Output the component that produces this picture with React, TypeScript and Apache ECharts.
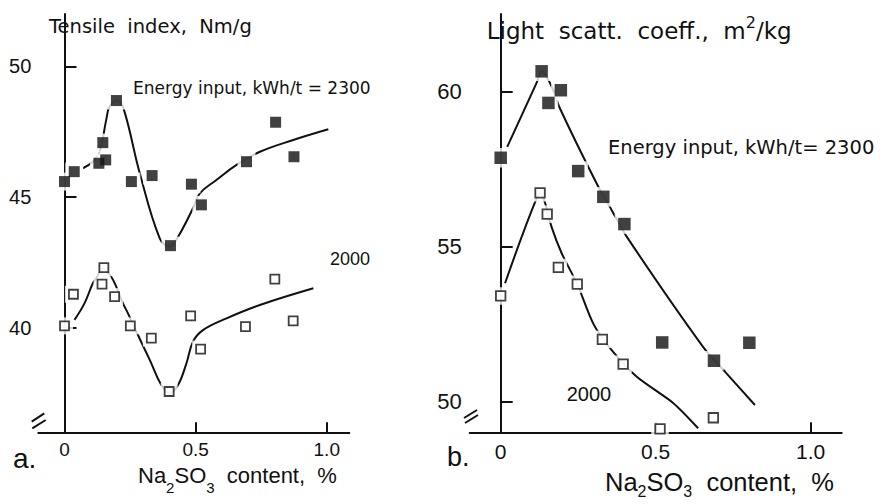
import React, { useEffect, useRef } from "react";
import * as echarts from "echarts";

const FONT = "'Liberation Sans', Arial, sans-serif";
const TFONT = "'DejaVu Sans', 'Liberation Sans', sans-serif";
const INK = "#111";

// ---- Panel a: tensile index ----
const tensile2300Points: [number, number][] = [
  [0.0, 45.59], [0.037, 45.97], [0.131, 46.29], [0.146, 47.08], [0.157, 46.42],
  [0.198, 48.69], [0.255, 45.59], [0.334, 45.82], [0.404, 43.14], [0.484, 45.49],
  [0.522, 44.7], [0.694, 46.35], [0.805, 47.86], [0.875, 46.54],
];
const tensile2300Curve: [number, number][] = [
  [0.07, 46.1], [0.108, 46.35], [0.134, 46.73], [0.159, 47.95], [0.172, 48.46],
  [0.2, 48.69], [0.225, 48.39], [0.287, 45.91], [0.363, 43.42], [0.401, 43.1],
  [0.433, 43.48], [0.49, 44.57], [0.516, 45.14], [0.579, 45.65], [0.656, 46.23],
  [0.745, 46.73], [0.872, 47.18], [1.006, 47.59],
];
const tensile2000Points: [number, number][] = [
  [0.0, 40.07], [0.034, 41.28], [0.15, 42.3], [0.143, 41.67], [0.191, 41.19],
  [0.251, 40.07], [0.331, 39.6], [0.399, 37.56], [0.481, 40.45], [0.519, 39.18],
  [0.69, 40.04], [0.802, 41.86], [0.872, 40.26],
];
const tensile2000Curve: [number, number][] = [
  [0.038, 40.3], [0.076, 40.93], [0.108, 41.7], [0.121, 41.89], [0.146, 42.27],
  [0.178, 41.95], [0.197, 41.57], [0.223, 40.93], [0.242, 40.55], [0.28, 39.72],
  [0.325, 38.77], [0.369, 37.81], [0.401, 37.49], [0.433, 37.81], [0.465, 38.64],
  [0.49, 39.47], [0.528, 39.91], [0.618, 40.36], [0.745, 40.87], [0.949, 41.51],
];
const leftYTicks = [40, 45, 50];
const leftXTicks = [0, 0.5, 1.0];

// ---- Panel b: light scattering coefficient ----
const scatt2300Points: [number, number][] = [
  [0.0, 57.86], [0.132, 60.65], [0.154, 59.63], [0.194, 60.04], [0.25, 57.43],
  [0.331, 56.6], [0.399, 55.72], [0.521, 51.9], [0.688, 51.31], [0.802, 51.89],
];
const scatt2300Curve: [number, number][] = [
  [0.021, 58.21], [0.115, 60.26], [0.132, 60.65], [0.165, 60.15], [0.189, 59.5],
  [0.312, 56.98], [0.358, 56.17], [0.408, 55.29], [0.654, 51.74], [0.724, 50.95],
  [0.82, 49.88],
];
const scatt2000Points: [number, number][] = [
  [0.0, 53.4], [0.127, 56.73], [0.15, 56.04], [0.186, 54.32], [0.247, 53.78],
  [0.328, 52.0], [0.395, 51.2], [0.514, 49.11], [0.686, 49.47],
];
const scatt2000Curve: [number, number][] = [
  [0.014, 53.81], [0.052, 54.88], [0.105, 56.28], [0.127, 56.73], [0.143, 56.41],
  [0.164, 55.63], [0.197, 54.77], [0.247, 53.78], [0.299, 52.5], [0.358, 51.65],
  [0.439, 50.79], [0.557, 49.94], [0.637, 49.13],
];
const rightYTicks = [50, 55, 60];
const rightXTicks = [0, 0.5, 1.0];

const xFmt = (v: number) => (v === 0 ? "0" : v.toFixed(1));

function makeAxes(
  gridIndex: number,
  xr: [number, number],
  yr: [number, number],
  xTicks: number[],
  yTicks: number[],
  xFont: number,
  yFont: number,
  xMargin: number,
  yMargin: number
) {
  const axisLine = { show: true, lineStyle: { color: INK, width: 2 } };
  const xAxis = {
    type: "value",
    gridIndex,
    min: xr[0],
    max: xr[1],
    axisLine,
    splitLine: { show: false },
    axisTick: { show: true, inside: true, length: 10, customValues: xTicks, lineStyle: { color: INK, width: 2 } },
    axisLabel: {
      show: true,
      customValues: xTicks,
      formatter: xFmt,
      color: INK,
      fontSize: xFont,
      fontFamily: FONT,
      margin: xMargin,
    },
  };
  const yAxis = {
    type: "value",
    gridIndex,
    min: yr[0],
    max: yr[1],
    axisLine,
    splitLine: { show: false },
    axisTick: { show: true, inside: true, length: 12, customValues: yTicks, lineStyle: { color: INK, width: 2 } },
    axisLabel: {
      show: true,
      customValues: yTicks,
      color: INK,
      fontSize: yFont,
      fontFamily: FONT,
      margin: yMargin,
    },
  };
  return { xAxis, yAxis };
}

function panelSeries(
  idx: number,
  filledPts: [number, number][],
  filledCurve: [number, number][],
  openPts: [number, number][],
  openCurve: [number, number][],
  filledSize: number,
  openSize: number,
  smooth: number
) {
  const common = { xAxisIndex: idx, yAxisIndex: idx, silent: true };
  const line = (data: [number, number][]) => ({
    ...common,
    type: "line",
    data,
    smooth,
    showSymbol: false,
    symbol: "none",
    lineStyle: { color: INK, width: 2 },
    z: 2,
  });
  const mask = (data: [number, number][], size: number) => ({
    ...common,
    type: "scatter",
    data,
    symbol: "rect",
    symbolSize: size,
    itemStyle: { color: "#fff" },
    z: 3,
  });
  return [
    line(filledCurve),
    line(openCurve),
    mask(filledPts, filledSize + 7),
    mask(openPts, openSize + 8),
    {
      ...common,
      type: "scatter",
      data: filledPts,
      symbol: "rect",
      symbolSize: filledSize,
      itemStyle: { color: INK },
      z: 4,
    },
    {
      ...common,
      type: "scatter",
      data: openPts,
      symbol: "rect",
      symbolSize: openSize,
      itemStyle: { color: "#fff", borderColor: INK, borderWidth: 1.8 },
      z: 4,
    },
  ];
}

function txt(x: number, y: number, text: string, fontSize: number, family: string = FONT) {
  return {
    type: "text",
    x,
    y,
    z: 100,
    silent: true,
    style: {
      text,
      fill: INK,
      fontSize,
      fontFamily: family,
      align: "left",
      verticalAlign: "middle",
    },
  };
}

function subTitle(x: number, y: number, F: number, S: number, P: number) {
  const n = { fontSize: F, lineHeight: Math.round(F * 1.2), verticalAlign: "top", fill: INK, color: INK, fontFamily: FONT };
  const s = { fontSize: S, verticalAlign: "top", padding: [P, 0, 0, 0], fill: INK, color: INK, fontFamily: FONT };
  return {
    type: "text",
    x,
    y,
    z: 100,
    silent: true,
    style: {
      text: "{n|Na}{s|2}{n|SO}{s|3}{n|  content,  %}",
      fill: INK,
      fontFamily: FONT,
      fontSize: F,
      align: "left",
      verticalAlign: "top",
      rich: { n, s },
    },
  };
}

function breakMark(ax: number, yTop: number, yBot: number, l1: number[], l2: number[]) {
  return [
    {
      type: "rect",
      z: 100,
      silent: true,
      shape: { x: ax - 2.5, y: yTop, width: 5, height: yBot - yTop },
      style: { fill: "#fff" },
    },
    {
      type: "line",
      z: 101,
      silent: true,
      shape: { x1: l1[0], y1: l1[1], x2: l1[2], y2: l1[3] },
      style: { stroke: INK, lineWidth: 2 },
    },
    {
      type: "line",
      z: 101,
      silent: true,
      shape: { x1: l2[0], y1: l2[1], x2: l2[2], y2: l2[3] },
      style: { stroke: INK, lineWidth: 2 },
    },
  ];
}

export default function App() {
  const ref = useRef<HTMLDivElement>(null);
  useEffect(() => {
    document.body.style.margin = "0";
    if (!ref.current) return;
    const chart = echarts.init(ref.current, null, { renderer: "svg" });
    const a = makeAxes(0, [-0.1, 1.086], [36, 52], leftXTicks, leftYTicks, 19, 20, 8, 7);
    const b = makeAxes(1, [-0.1, 1.1], [49, 62.5], rightXTicks, rightYTicks, 21, 22, 9, 8);
    const supRich = {
      n: { fontSize: 23, lineHeight: 28, verticalAlign: "bottom", fill: INK, color: INK, fontFamily: TFONT },
      p: { fontSize: 16, lineHeight: 18, verticalAlign: "top", fill: INK, color: INK, fontFamily: TFONT },
    };
    chart.setOption({
      animation: false,
      backgroundColor: "#fff",
      grid: [
        { left: 38.3, top: 14, width: 311, height: 418.3 },
        { left: 469.7, top: 14, width: 372, height: 418.3 },
      ],
      xAxis: [a.xAxis, b.xAxis],
      yAxis: [a.yAxis, b.yAxis],
      series: [
        ...panelSeries(0, tensile2300Points, tensile2300Curve, tensile2000Points, tensile2000Curve, 11, 9, 0.4),
        ...panelSeries(1, scatt2300Points, scatt2300Curve, scatt2000Points, scatt2000Curve, 12.5, 9.5, 0.25),
      ],
      graphic: [
        txt(49, 26.5, "Tensile  index,  Nm/g", 19.5, TFONT),
        txt(133, 87.7, "Energy input, kWh/t = 2300", 17, TFONT),
        txt(330, 258.7, "2000", 18),
        txt(13, 458.2, "a.", 28),
        subTitle(138, 464, 22, 15, 15.5),
        {
          type: "text",
          x: 486.7,
          y: 14,
          z: 100,
          silent: true,
          style: {
            text: "{n|Light  scatt.  coeff.,  m}{p|2}{n|/kg}",
            fill: INK,
            fontFamily: TFONT,
            fontSize: 23,
            align: "left",
            verticalAlign: "top",
            rich: supRich,
          },
        },
        txt(608, 147.2, "Energy input, kWh/t= 2300", 19.5, TFONT),
        txt(566.7, 393.9, "2000", 20),
        txt(447, 457.2, "b.", 27),
        subTitle(605, 469, 25.5, 16, 14),
        ...breakMark(38.3, 417.5, 424.5, [31.7, 421.7, 44.3, 413.3], [32.3, 428.3, 45.7, 420]),
        ...breakMark(469.7, 412.5, 419.5, [464, 418, 477, 410], [465, 423, 478, 415]),
      ],
    });
    return () => chart.dispose();
  }, []);
  return <div ref={ref} style={{ width: 883, height: 504, position: "absolute", left: 0, top: 0 }} />;
}
